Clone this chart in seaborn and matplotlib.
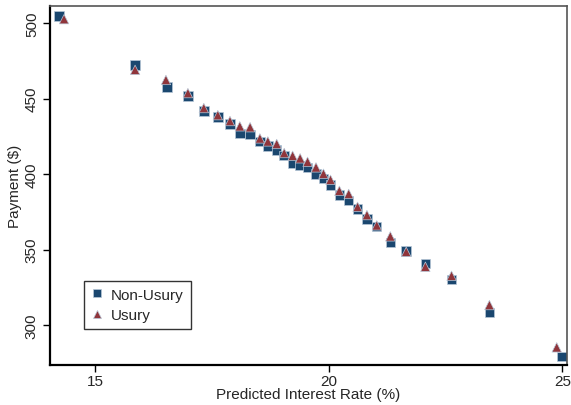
import pandas as pd
import seaborn as sns
import matplotlib.pyplot as plt

# predicted interest rate (%) and payment ($)
rate_nonusury = [14.23, 15.86, 16.54, 16.99, 17.33, 17.63, 17.89, 18.10, 18.32, 18.53,
                 18.70, 18.89, 19.05, 19.23, 19.39, 19.55, 19.73, 19.89, 20.04, 20.23,
                 20.43, 20.62, 20.82, 21.03, 21.32, 21.66, 22.07, 22.63, 23.44, 24.99]
pay_nonusury = [504.6, 472.2, 457.6, 451.7, 441.7, 437.7, 433.1, 427.0, 426.1, 421.6,
                418.5, 415.9, 412.1, 407.1, 405.5, 404.4, 400.0, 397.2, 392.7, 386.1,
                382.3, 376.8, 370.2, 365.4, 354.8, 349.0, 340.9, 330.0, 308.4, 279.3]

rate_usury = [14.34, 15.86, 16.52, 16.99, 17.33, 17.63, 17.89, 18.10, 18.32, 18.53,
              18.70, 18.89, 19.05, 19.23, 19.39, 19.55, 19.73, 19.89, 20.04, 20.23,
              20.43, 20.62, 20.82, 21.03, 21.32, 21.66, 22.07, 22.63, 23.44, 24.88]
pay_usury = [502.6, 469.0, 462.3, 453.6, 443.7, 439.0, 435.1, 431.6, 431.0, 423.6,
             421.6, 419.9, 413.9, 412.1, 410.4, 408.1, 404.4, 400.2, 396.2, 388.9,
             386.8, 378.3, 372.8, 366.0, 358.7, 348.5, 338.6, 332.6, 313.2, 285.2]

groups = ['Non-Usury', 'Usury']

df = pd.concat([
    pd.DataFrame({'rate': rate_nonusury, 'payment': pay_nonusury, 'group': groups[0]}),
    pd.DataFrame({'rate': rate_usury, 'payment': pay_usury, 'group': groups[1]}),
], ignore_index=True)

sns.set_style('white')
plt.rcParams['font.family'] = ['Liberation Sans', 'DejaVu Sans']

fig = plt.figure(figsize=(5.71, 4.06), dpi=100)
ax = fig.add_axes([0.0876, 0.0985, 0.9054, 0.885])

sns.scatterplot(data=df, x='rate', y='payment', hue='group', style='group',
                palette={'Non-Usury': '#1a476f', 'Usury': '#90353b'},
                markers={'Non-Usury': 's', 'Usury': '^'},
                s=46, linewidth=0.5, edgecolor='#b8c8d8', ax=ax)

ax.set_xlim(14.04, 25.1)
ax.set_ylim(273.5, 511.5)
ax.set_xticks([15, 20, 25])
ax.set_yticks([300, 350, 400, 450, 500])
ax.tick_params(axis='both', direction='out', length=5, width=1, color='black',
               labelsize=11, left=True, bottom=True)
ax.tick_params(axis='x', pad=1.5)
ax.tick_params(axis='y', pad=3)
plt.setp(ax.get_yticklabels(), rotation=90, va='center')
ax.set_xlabel('Predicted Interest Rate (%)', fontsize=11, labelpad=-1)
ax.set_ylabel('Payment ($)', fontsize=11, labelpad=2)

for side in ['left', 'bottom']:
    ax.spines[side].set_color('black')
    ax.spines[side].set_linewidth(1.6)
for side in ['top', 'right']:
    ax.spines[side].set_color('#555555')
    ax.spines[side].set_linewidth(1.2)

leg = ax.legend(loc='upper left', bbox_to_anchor=(0.066, 0.234), frameon=True,
                fancybox=False, edgecolor='black', fontsize=11, markerscale=0.9,
                handlelength=0.8, handletextpad=0.5, borderpad=0.45,
                labelspacing=0.4, borderaxespad=0)
leg.get_frame().set_linewidth(1.0)

fig.savefig('out.png', dpi=100)
